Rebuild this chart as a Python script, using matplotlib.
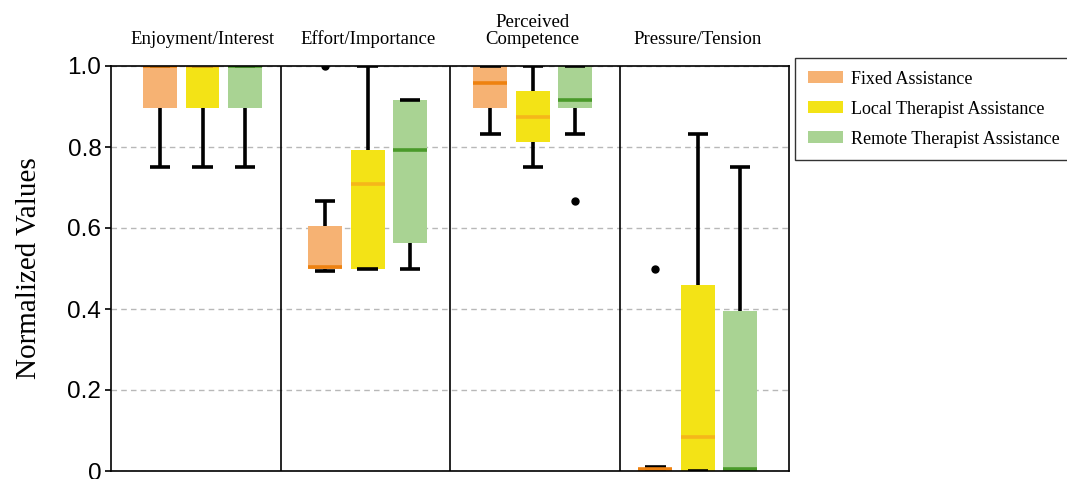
import matplotlib
matplotlib.use("Agg")
import matplotlib.pyplot as plt
from matplotlib.patches import Patch

# categories and groups
categories = ["Enjoyment/Interest", "Effort/Importance", "Perceived\nCompetence", "Pressure/Tension"]
groups = ["Fixed Assistance", "Local Therapist Assistance", "Remote Therapist Assistance"]

# box statistics, one list per group, one value per category
whislo = [[0.75, 0.494, 0.833, 0.0],
          [0.75, 0.50, 0.75, 0.0],
          [0.75, 0.50, 0.833, 0.0]]
q1 = [[0.896, 0.498, 0.896, 0.0],
      [0.896, 0.50, 0.8125, 0.0],
      [0.896, 0.5625, 0.896, 0.0]]
med = [[1.0, 0.503, 0.958, 0.004],
       [1.0, 0.708, 0.875, 0.0833],
       [1.0, 0.7917, 0.9167, 0.005]]
q3 = [[1.0, 0.604, 1.0, 0.006],
      [1.0, 0.7917, 0.9375, 0.4583],
      [1.0, 0.9167, 1.0, 0.3958]]
whishi = [[1.0, 0.667, 1.0, 0.011],
          [1.0, 1.0, 1.0, 0.8333],
          [1.0, 0.9167, 1.0, 0.75]]
fliers = [[[], [1.0], [], [0.5]],
          [[], [], [], []],
          [[], [], [0.667], []]]

yticks = [0, 0.2, 0.4, 0.6, 0.8, 1.0]
ytick_labels = ["0", "0.2", "0.4", "0.6", "0.8", "1.0"]

face_colors = ["#F6B273", "#F3E316", "#A9D393"]
median_colors = ["#EE8211", "#F5B71A", "#4A9A2A"]

fig = plt.figure(figsize=(10.67, 4.79), dpi=100)
ax = fig.add_axes([111 / 1067, 8 / 479, 678 / 1067, 405 / 479])

group_start, group_step, box_step = 0.29, 0.974, 0.25

for g in range(len(groups)):
    stats = []
    for c in range(len(categories)):
        stats.append(dict(whislo=whislo[g][c], q1=q1[g][c], med=med[g][c],
                          q3=q3[g][c], whishi=whishi[g][c], fliers=fliers[g][c]))
    pos = [group_start + c * group_step + g * box_step for c in range(len(categories))]
    ax.bxp(stats, positions=pos, widths=0.2, capwidths=0.12, patch_artist=True,
           showfliers=True, manage_ticks=False,
           boxprops=dict(facecolor=face_colors[g], edgecolor="none", linewidth=0),
           whiskerprops=dict(color="black", linewidth=2.6, solid_capstyle="butt"),
           capprops=dict(color="black", linewidth=2.6, solid_capstyle="butt"),
           medianprops=dict(color=median_colors[g], linewidth=2.6, solid_capstyle="butt"),
           flierprops=dict(marker="o", markerfacecolor="black", markeredgecolor="black",
                           markersize=5))

ax.set_xlim(0, 4)
ax.set_ylim(0, 1)
for sep in [1, 2, 3]:
    ax.axvline(sep, color="black", linewidth=1.2, zorder=3)

ax.set_xticks([])
ax.set_yticks(yticks)
ax.set_yticklabels(ytick_labels, family="Liberation Sans", fontsize=17.5)
ax.tick_params(axis="y", direction="out", length=4, width=1.2, pad=3)
ax.yaxis.grid(True, linestyle=(0, (4, 3)), color="#b8b8b8", linewidth=1)
ax.set_axisbelow(True)
for s in ax.spines.values():
    s.set_linewidth(1.2)
    s.set_zorder(4)

ax.set_ylabel("Normalized Values", family="Liberation Serif", fontsize=21)
ax.yaxis.set_label_coords((42 - 111) / 678, 0.5)

# titles above each group
for c, name in enumerate(categories):
    x = group_start + c * group_step + box_step
    ax.text(x, 1.045, name, ha="center", va="bottom", family="Liberation Serif",
            fontsize=13.5, linespacing=1.0, transform=ax.get_xaxis_transform())

handles = [Patch(facecolor=face_colors[g], edgecolor="none", label=groups[g])
           for g in range(len(groups))]
leg = fig.legend(handles=handles, loc="upper left", bbox_to_anchor=(795 / 1067, 1 - 58 / 479),
                 borderaxespad=0, frameon=True, fancybox=False, edgecolor="black",
                 prop=dict(family="Liberation Serif", size=13), borderpad=0.7,
                 handlelength=1.95, handleheight=0.65, handletextpad=0.45, labelspacing=0.72)
leg.get_frame().set_linewidth(1.0)

plt.savefig("out.png", dpi=100)
